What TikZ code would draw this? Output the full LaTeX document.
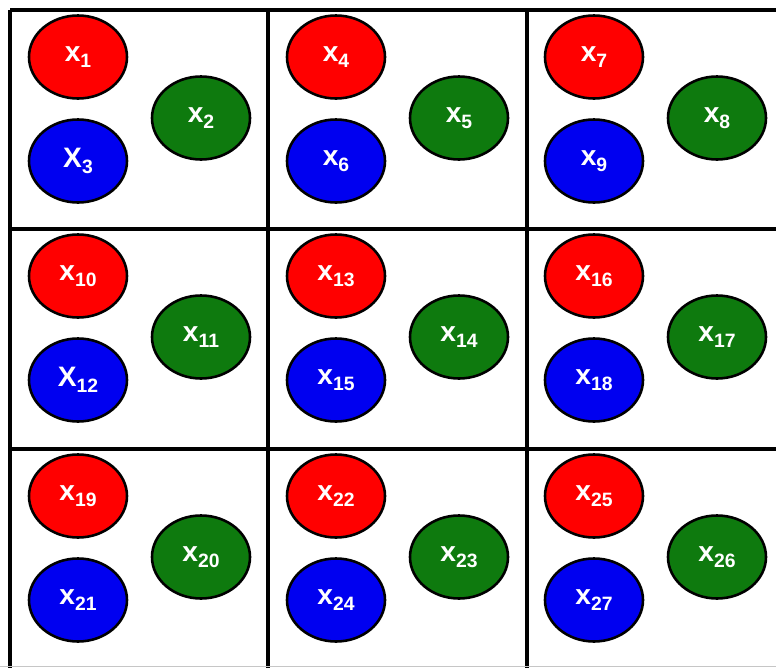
\documentclass[tikz,border=0pt]{standalone}
\usepackage{xcolor}
\usepackage{fontspec}
\setmainfont{Liberation Sans}
\usepackage{tikz}
\usetikzlibrary{shapes,positioning}

\definecolor{ballred}{HTML}{FF0000}
\definecolor{ballblue}{HTML}{0000F0}
\definecolor{ballgreen}{HTML}{0E7A0E}

% subscript index of a variable
\newcommand{\idx}[1]{\raisebox{-0.38ex}{\fontsize{16.5}{20}\selectfont #1}}

\begin{document}
\begin{tikzpicture}[
    x=0.03cm, y=-0.03cm,
    ball/.style={ellipse, draw=black, line width=2.2pt, minimum width=2.94cm, minimum height=2.49cm, inner sep=0pt, text=white, font=\fontsize{24}{26}\selectfont\bfseries},
    redball/.style={ball, fill=ballred},
    blueball/.style={ball, fill=ballblue},
    greenball/.style={ball, fill=ballgreen},
    gridline/.style={line width=2.6pt, black}
]
\useasboundingbox (0,0) rectangle (776,668);

% Grid
\coordinate (tl) at (10,10);
\coordinate (bl) at (10,668);
\coordinate (tr) at (776,10);
\coordinate (ca) at (268,10);
\coordinate (cab) at (268,668);
\coordinate (cb) at (527,10);
\coordinate (cbb) at (527,668);
\coordinate (ra) at (10,229);
\coordinate (rar) at (776,229);
\coordinate (rb) at (10,449);
\coordinate (rbr) at (776,449);
\draw[gridline] (tl) -- (tr);
\draw[gridline] (tl) -- (bl);
\draw[gridline] (ca) -- (cab);
\draw[gridline] (cb) -- (cbb);
\draw[gridline] (ra) -- (rar);
\draw[gridline] (rb) -- (rbr);
\coordinate (fl) at (0,666);
\coordinate (fr) at (776,666);
\draw[gray!45, line width=0.8pt] (fl) -- (fr);

% Row 1
\node[redball] (x1) at (78,57) {x\idx{1}};
\node[greenball] (x2) at (201,118) {x\idx{2}};
\node[blueball] (x3) at (78,161) {X\idx{3}};
\node[redball] (x4) at (336,57) {x\idx{4}};
\node[greenball] (x5) at (459,118) {x\idx{5}};
\node[blueball] (x6) at (336,161) {x\idx{6}};
\node[redball] (x7) at (594,57) {x\idx{7}};
\node[greenball] (x8) at (717,118) {x\idx{8}};
\node[blueball] (x9) at (594,161) {x\idx{9}};

% Row 2
\node[redball] (x10) at (78,276) {x\idx{10}};
\node[greenball] (x11) at (201,337) {x\idx{11}};
\node[blueball] (x12) at (78,380) {X\idx{12}};
\node[redball] (x13) at (336,276) {x\idx{13}};
\node[greenball] (x14) at (459,337) {x\idx{14}};
\node[blueball] (x15) at (336,380) {x\idx{15}};
\node[redball] (x16) at (594,276) {x\idx{16}};
\node[greenball] (x17) at (717,337) {x\idx{17}};
\node[blueball] (x18) at (594,380) {x\idx{18}};

% Row 3
\node[redball] (x19) at (78,496) {x\idx{19}};
\node[greenball] (x20) at (201,557) {x\idx{20}};
\node[blueball] (x21) at (78,600) {x\idx{21}};
\node[redball] (x22) at (336,496) {x\idx{22}};
\node[greenball] (x23) at (459,557) {x\idx{23}};
\node[blueball] (x24) at (336,600) {x\idx{24}};
\node[redball] (x25) at (594,496) {x\idx{25}};
\node[greenball] (x26) at (717,557) {x\idx{26}};
\node[blueball] (x27) at (594,600) {x\idx{27}};

\end{tikzpicture}
\end{document}
